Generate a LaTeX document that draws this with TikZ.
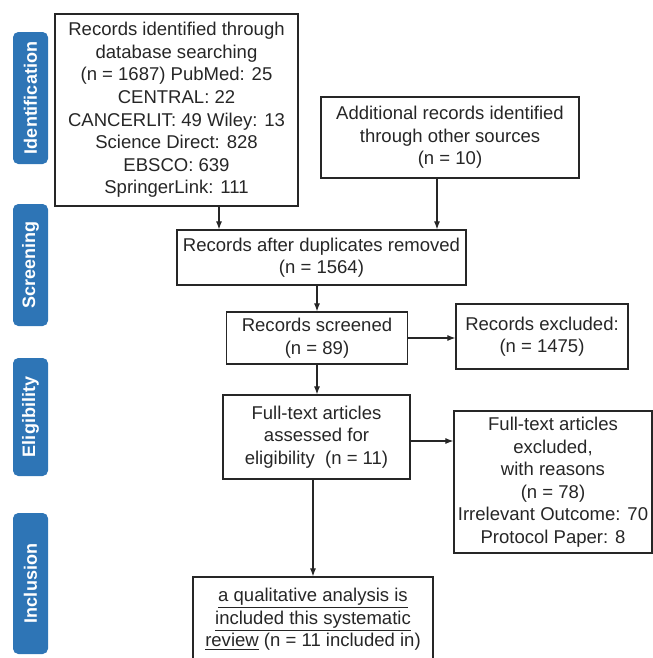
\documentclass[tikz,border=0pt]{standalone}
\usepackage{fontspec}
\setmainfont{Liberation Sans}
\usetikzlibrary{arrows.meta,calc}
\definecolor{phaseblue}{HTML}{2E75B6}
\definecolor{ink}{HTML}{262626}

\begin{document}
\begin{tikzpicture}[x=0.75pt,y=-0.75pt,>={Latex[length=6pt,width=4.5pt]},
rec/.style={rectangle, draw=ink, line width=0.9pt, text=ink, align=center, inner sep=0pt, font=\fontsize{13.9}{16.9}\selectfont},
phase/.style={rectangle, rounded corners=4pt, fill=phaseblue, text=white, rotate=90, inner sep=0pt, minimum height=26.25pt, font=\bfseries\fontsize{13.5}{16}\selectfont}]

\clip (0,0) rectangle (653,658);

\draw (30.5,98) node[phase, minimum width=99pt] (P1) {Identification};
\draw (30.5,265) node[phase, minimum width=91.5pt] (P2) {Screening};
\draw (30.5,417) node[phase, minimum width=88.5pt] (P3) {Eligibility};
\draw (30.5,583.5) node[phase, minimum width=105.75pt] (P4) {Inclusion};

\draw (176.5,110) node[rec, minimum width=182.25pt, minimum height=144pt] (B1) {Records identified through\\database searching\\(n = 1687) PubMed: 25\\CENTRAL: 22\\CANCERLIT: 49 Wiley: 13\\Science Direct: 828\\EBSCO: 639\\SpringerLink: 111};
\draw (450,137.5) node[rec, minimum width=193.5pt, minimum height=60.75pt] (B2) {Additional records identified\\through other sources\\(n = 10)};
\draw (321.5,257.5) node[rec, minimum width=216.75pt, minimum height=41.25pt] (B3) {Records after duplicates removed\\(n = 1564)};
\draw (317,338) node[rec, minimum width=135.75pt, minimum height=39pt] (B4) {Records screened\\(n = 89)};
\draw (542,336.5) node[rec, minimum width=129pt, minimum height=48.75pt] (B5) {Records excluded:\\(n = 1475)};
\draw (316.5,437) node[rec, minimum width=140.25pt, minimum height=63pt] (B6) {Full-text articles\\assessed for\\eligibility\ \ (n = 11)};
\draw (553,482) node[rec, minimum width=148.5pt, minimum height=106.5pt] (B7) {Full-text articles\\excluded,\\with reasons\\(n = 78)\\Irrelevant Outcome: 70\\Protocol Paper: 8};
\draw (313,619.5) node[rec, minimum width=180pt, minimum height=63.75pt] (B8) {\underline{a qualitative analysis is}\\\underline{included this systematic}\\\underline{review} (n = 11 included in)};

\coordinate (t1) at ($(B1.south)+(42.5,0)$);
\coordinate (t2) at ($(B2.south)+(-13,0)$);
\coordinate (t6) at ($(B6.east)+(0,4)$);

\draw[->, line width=0.8pt, ink] (t1)--(t1 |- B3.north);
\draw[->, line width=0.8pt, ink] (t2)--(t2 |- B3.north);
\draw[->, line width=0.8pt, ink] (B4.north |- B3.south)--(B4.north);
\draw[->, line width=0.8pt, ink] (B4.east)--(B5.west |- B4.east);
\draw[->, line width=0.8pt, ink] (B4.south)--(B6.north -| B4.south);
\draw[->, line width=0.8pt, ink] (t6)--(B7.west |- t6);
\draw[->, line width=0.8pt, ink] (B8.north |- B6.south)--(B8.north);
\end{tikzpicture}
\end{document}
